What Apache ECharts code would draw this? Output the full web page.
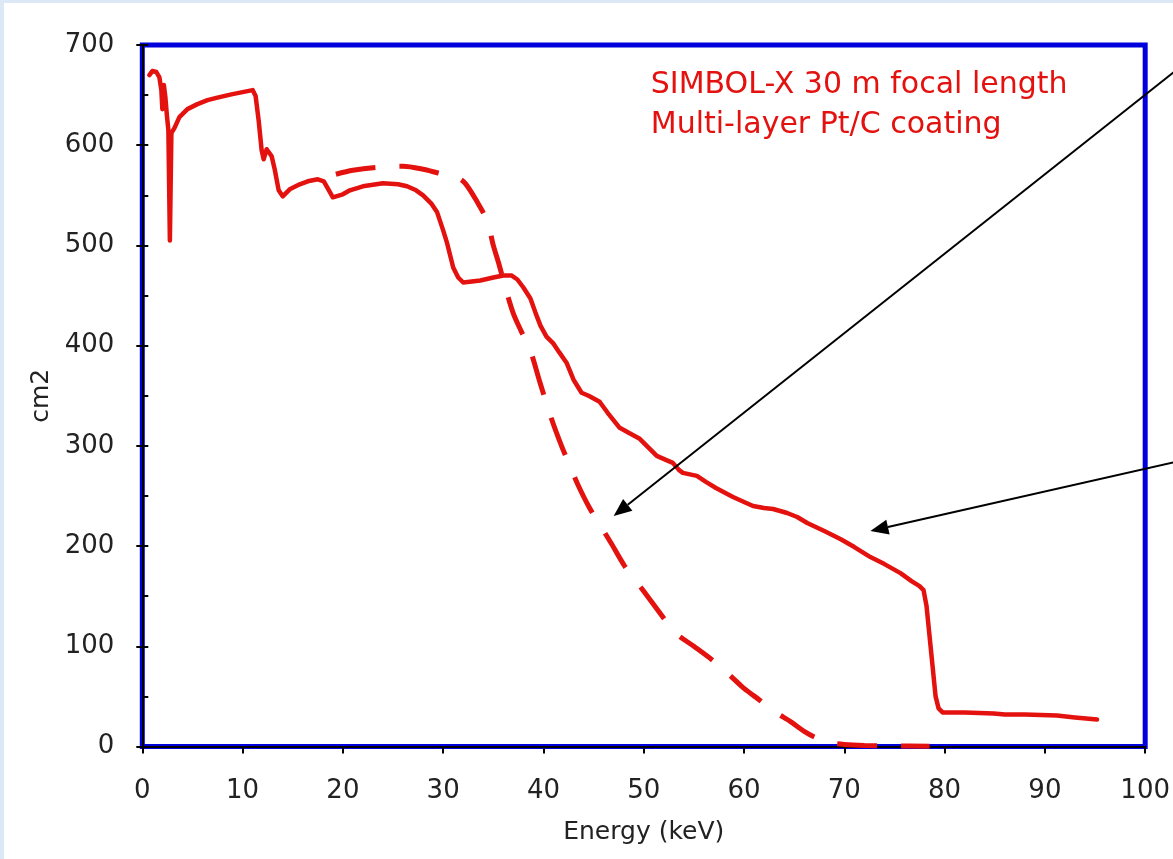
<!DOCTYPE html>
<html>
<head>
<meta charset="utf-8">
<title>SIMBOL-X effective area</title>
<script src="https://cdn.jsdelivr.net/npm/echarts@6/dist/echarts.min.js"></script>
<style>
  html, body { margin: 0; padding: 0; width: 1173px; height: 859px; overflow: hidden; background: #dce8f5; }
  #chart { position: absolute; left: 4px; top: 3px; width: 1169px; height: 856px; background: #ffffff; }
</style>
</head>
<body>
<div id="chart"></div>
<script>
// Effective area (cm2) versus photon energy (keV)
// Solid curve: multi-layer Pt/C coating response
const energySolid = [
  0.7, 1.0, 1.4, 1.7, 1.9, 2.0, 2.15, 2.3, 2.45, 2.6, 2.75, 2.9, 3.2, 3.7, 4.5, 5.5, 6.5, 7.7, 9.0, 10.5,
  11.0, 11.3, 11.6, 11.9, 12.1, 12.4, 12.9, 13.2, 13.6, 14.0, 14.7, 15.7, 16.5, 17.5, 18.1, 19.0, 20.0, 20.7,
  22.0, 24.0, 25.5, 26.4, 27.3, 28.0, 28.8, 29.4, 30.0, 30.4, 31.0, 31.5, 32.0, 33.7, 35.0, 36.0, 36.8, 37.4,
  38.0, 38.7, 39.2, 39.7, 40.3, 41.0, 41.6, 42.3, 43.0, 43.8, 44.5, 45.6, 46.4, 47.6, 48.5, 49.6, 50.5, 51.3,
  52.2, 52.9, 53.5, 53.9, 55.3, 56.2, 57.2, 58.9, 60.0, 60.9, 62.0, 62.9, 64.3, 65.3, 66.3, 68.0, 69.6, 71.0,
  72.6, 74.0, 75.6, 76.7, 77.5, 77.9, 78.2, 78.5, 78.8, 79.1, 79.4, 79.8, 82.0, 84.9, 86.0, 88.0, 91.2, 93.0, 95.2
];
const areaSolid = [
  670, 674, 673, 668, 655, 636, 660, 648, 630, 615, 505, 612, 617, 628, 636, 641, 645, 648, 651, 654,
  655, 649, 625, 595, 586, 596, 589, 576, 555, 549, 556, 561, 564, 566, 564, 548, 551, 555,
  559, 562, 561, 559, 555, 550, 542, 533, 515, 502, 478, 468, 463, 465, 468, 470, 470, 466,
  458, 447, 433, 420, 409, 402, 393, 383, 366, 353, 350, 344, 333, 318, 313, 307, 298, 290,
  286, 283, 276, 273, 270, 264, 258, 249, 244, 240, 238, 237, 233, 229, 223, 215, 207, 199,
  189, 182, 173, 165, 160, 156, 140, 110, 80, 50, 38, 34, 34, 33, 32, 32, 31, 29, 27
];

// Dashed curve: comparison response
const energyDashed = [
  19.3, 21.0, 23.5, 26.0, 28.0, 30.0, 31.5, 32.2, 33.3, 34.4, 35.0, 35.6, 36.2, 37.0, 37.8, 38.7, 39.6, 40.8,
  41.8, 42.6, 43.4, 44.6, 45.7, 46.8, 48.1, 50.0, 52.0, 53.2, 55.0, 57.0, 58.6, 60.0, 61.6, 63.0, 64.6, 66.0,
  67.1, 68.5, 70.0, 72.0, 75.0, 78.5
];
const areaDashed = [
  571, 575, 578, 579, 576, 571, 567, 562, 545, 524, 500, 480, 458, 432, 414, 395, 365, 327,
  300, 281, 262, 238, 220, 202, 180, 155, 128, 113, 100, 85, 71, 58, 46, 35, 25, 15,
  9, 4, 2, 1, 0.5, 0.3
];

// Axis tick values
const xTicks = [0, 10, 20, 30, 40, 50, 60, 70, 80, 90, 100];
const yTicks = [0, 100, 200, 300, 400, 500, 600, 700];

// Annotation text and pointer arrows (data units: [keV, cm2])
const noteLines = ['SIMBOL-X 30 m focal length', 'Multi-layer Pt/C coating'];
const arrowTails = [[103.5, 678], [103.5, 285]];
const arrowHeads = [[47.0, 230], [72.6, 215]];

const RED = '#e3120f';
const BLUE = '#0000dd';
const LABEL_FONT = '"DejaVu Sans", Verdana, sans-serif';

const pair = (xs, ys) => xs.map((x, i) => [x, ys[i]]);

const chart = echarts.init(document.getElementById('chart'), null, { renderer: 'canvas' });

chart.setOption({
  animation: false,
  backgroundColor: '#ffffff',
  grid: {
    left: 138.3, right: 26.3, top: 42, bottom: 112.5,
    show: true, borderColor: BLUE, borderWidth: 5, backgroundColor: 'transparent'
  },
  xAxis: {
    type: 'value',
    min: xTicks[0], max: xTicks[xTicks.length - 1], interval: 10,
    name: 'Energy (keV)', nameLocation: 'middle', nameGap: 73,
    nameTextStyle: { fontFamily: LABEL_FONT, fontSize: 25, color: '#222' },
    axisLine: { show: true, lineStyle: { color: '#000', width: 2 } },
    axisTick: { show: true, inside: false, length: 7, lineStyle: { color: '#000', width: 2 } },
    axisLabel: { margin: 32, fontFamily: LABEL_FONT, fontSize: 26, color: '#222' },
    splitLine: { show: false }
  },
  yAxis: [
    {
      type: 'value', position: 'left',
      min: yTicks[0], max: yTicks[yTicks.length - 1], interval: 100,
      name: 'cm2', nameLocation: 'middle', nameGap: 88,
      nameTextStyle: { fontFamily: LABEL_FONT, fontSize: 25, color: '#222' },
      axisLine: { show: true, lineStyle: { color: '#000', width: 2 } },
      axisTick: { show: true, inside: false, length: 6, lineStyle: { color: '#000', width: 2 } },
      axisLabel: { margin: 28, fontFamily: LABEL_FONT, fontSize: 26, color: '#222' },
      splitLine: { show: false }
    },
    {
      // inward ticks every 50 cm2
      type: 'value', position: 'left', offset: 0,
      min: yTicks[0], max: yTicks[yTicks.length - 1], interval: 50,
      axisLine: { show: false },
      axisTick: { show: true, inside: true, length: 6, lineStyle: { color: '#000', width: 2 } },
      axisLabel: { show: false },
      splitLine: { show: false }
    }
  ],
  series: [
    {
      type: 'line', name: 'Pt/C', data: pair(energySolid, areaSolid),
      showSymbol: false, symbol: 'none', smooth: false, z: 3,
      lineStyle: { color: RED, width: 4.5, join: 'round', cap: 'round' }
    },
    {
      type: 'line', name: 'comparison', data: pair(energyDashed, areaDashed),
      showSymbol: false, symbol: 'none', smooth: 0.3, z: 3,
      lineStyle: { color: RED, width: 5, type: [40, 24], cap: 'butt' }
    }
  ]
});

// Annotation text and arrows placed through the axis scales
function buildGraphics() {
  const toPx = p => chart.convertToPixel({ gridIndex: 0 }, p);
  const textAnchor = toPx([50.7, 660]);
  const elements = noteLines.map((t, i) => ({
    type: 'text', silent: true,
    x: textAnchor[0], y: textAnchor[1] + i * 40,
    style: {
      text: t, fill: RED, font: '30px ' + LABEL_FONT,
      textAlign: 'left', textVerticalAlign: 'middle'
    },
    z: 10
  }));
  const headLen = 18, headHalf = 7.5;
  arrowTails.forEach((tail, i) => {
    const a = toPx(tail), b = toPx(arrowHeads[i]);
    const dx = b[0] - a[0], dy = b[1] - a[1];
    const len = Math.hypot(dx, dy);
    const ux = dx / len, uy = dy / len;
    const bx = b[0] - ux * headLen, by = b[1] - uy * headLen;
    elements.push({
      type: 'line', silent: true, z: 10,
      shape: { x1: a[0], y1: a[1], x2: bx, y2: by },
      style: { stroke: '#000', lineWidth: 2 }
    });
    elements.push({
      type: 'polygon', silent: true, z: 10,
      shape: { points: [[b[0], b[1]], [bx - uy * headHalf, by + ux * headHalf], [bx + uy * headHalf, by - ux * headHalf]] },
      style: { fill: '#000' }
    });
  });
  chart.setOption({ graphic: { elements } });
}
buildGraphics();
</script>
</body>
</html>
